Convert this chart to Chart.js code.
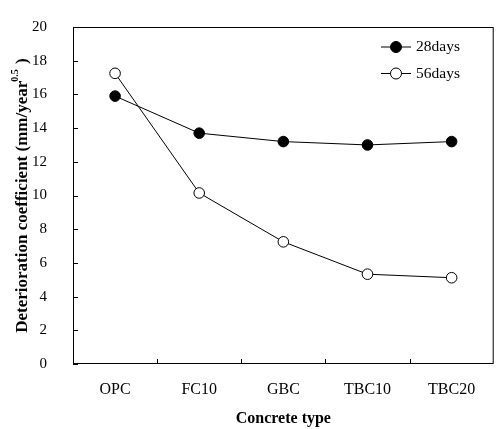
<!DOCTYPE html>
<html>
<head>
<meta charset="utf-8">
<script src="https://cdn.jsdelivr.net/npm/chart.js@4"></script>
<style>
  html, body { margin: 0; padding: 0; background: #fff; }
  #wrap { width: 500px; height: 429px; }
</style>
</head>
<body>
<div id="wrap"><canvas id="chart"></canvas></div>
<script>
const categories = ['OPC', 'FC10', 'GBC', 'TBC10', 'TBC20'];
const days28 = [15.9, 13.7, 13.2, 13.0, 13.2];
const days56 = [17.25, 10.15, 7.25, 5.33, 5.12];
const yTicks = [0, 2, 4, 6, 8, 10, 12, 14, 16, 18, 20];

const serif = "'Liberation Serif', 'DejaVu Serif', serif";

// frame and inward ticks
const framePlugin = {
    id: 'frame',
    afterDraw(chart) {
        const ctx = chart.ctx;
        const a = chart.chartArea;
        const x = chart.scales.x;
        const y = chart.scales.y;
        ctx.save();
        ctx.strokeStyle = '#000';
        ctx.lineWidth = 1;
        ctx.strokeRect(a.left + 0.5, a.top + 0.5, a.right - a.left - 1, a.bottom - a.top - 1);
        ctx.beginPath();
        yTicks.forEach(function(v) {
            const py = Math.round(y.getPixelForValue(v)) + 0.5;
            ctx.moveTo(a.left, py);
            ctx.lineTo(a.left + 5, py);
        });
        const half = (x.getPixelForValue(1) - x.getPixelForValue(0)) / 2;
        for (let i = 1; i < categories.length; i++) {
            const px = Math.round(x.getPixelForValue(i) - half) + 0.5;
            ctx.moveTo(px, a.bottom);
            ctx.lineTo(px, a.bottom - 5);
        }
        ctx.stroke();

        // y axis title with superscript
        ctx.translate(23, (a.top + a.bottom) / 2);
        ctx.rotate(-Math.PI / 2);
        ctx.fillStyle = '#000';
        ctx.textBaseline = 'middle';
        const main = 'Deterioration coefficient (mm/year';
        const sup = '0.5';
        const end = ' )';
        ctx.font = 'bold 17px ' + serif;
        const w1 = ctx.measureText(main).width;
        const w3 = ctx.measureText(end).width;
        ctx.font = 'bold 10px ' + serif;
        const w2 = ctx.measureText(sup).width;
        let sx = -(w1 + w2 + w3) / 2;
        ctx.font = 'bold 17px ' + serif;
        ctx.fillText(main, sx, 0);
        ctx.font = 'bold 10px ' + serif;
        ctx.fillText(sup, sx + w1 - 1, -8);
        ctx.font = 'bold 17px ' + serif;
        ctx.fillText(end, sx + w1 + w2, 0);
        ctx.restore();
    }
};

// legend inside the plot, line + marker
const legendPlugin = {
    id: 'innerLegend',
    afterDraw(chart) {
        const ctx = chart.ctx;
        ctx.save();
        chart.data.datasets.forEach(function(ds, i) {
            const cy = 47 + i * 26.5;
            ctx.strokeStyle = '#000';
            ctx.lineWidth = 1;
            ctx.beginPath();
            ctx.moveTo(381, cy);
            ctx.lineTo(411, cy);
            ctx.stroke();
            ctx.beginPath();
            ctx.arc(396, cy, 5.5, 0, Math.PI * 2);
            ctx.fillStyle = ds.pointBackgroundColor;
            ctx.fill();
            ctx.stroke();
            ctx.fillStyle = '#000';
            ctx.font = '15.5px ' + serif;
            ctx.textBaseline = 'middle';
            ctx.textAlign = 'left';
            ctx.fillText(ds.label, 416, cy);
        });
        ctx.restore();
    }
};

const data = {
    labels: categories,
    datasets: [{
        label: '28days',
        data: days28,
        borderColor: '#000',
        borderWidth: 1,
        pointBackgroundColor: '#000',
        pointBorderColor: '#000',
        pointBorderWidth: 1,
        pointRadius: 5.3,
    },
    {
        label: '56days',
        data: days56,
        borderColor: '#000',
        borderWidth: 1,
        pointBackgroundColor: '#fff',
        pointBorderColor: '#000',
        pointBorderWidth: 1,
        pointRadius: 5.3,
    }]
};

const config = {
    type: 'line',
    data: data,
    options: {
        responsive: true,
        maintainAspectRatio: false,
        animation: false,
        layout: { padding: { top: 11, right: 3, left: 0, bottom: 0 } },
        plugins: {
            legend: { display: false },
            tooltip: { enabled: false }
        },
        scales: {
            x: {
                offset: true,
                grid: { display: false },
                border: { display: false },
                ticks: {
                    color: '#000',
                    padding: 8,
                    font: { family: serif, size: 16 }
                },
                title: {
                    display: true,
                    text: 'Concrete type',
                    color: '#000',
                    padding: { top: 0, bottom: 1 },
                    font: { family: serif, size: 16, weight: 'bold' }
                },
                afterFit: function(scale) { scale.height = 65; }
            },
            y: {
                min: 0,
                max: 20,
                grid: { display: false },
                border: { display: false },
                afterBuildTicks: function(scale) {
                    scale.ticks = yTicks.map(function(v) { return { value: v }; });
                },
                ticks: {
                    color: '#000',
                    padding: 18,
                    font: { family: serif, size: 15 }
                },
                afterFit: function(scale) { scale.width = 73; }
            }
        }
    },
    plugins: [framePlugin, legendPlugin]
};

const chart = new Chart(document.getElementById('chart'), config);
</script>
</body>
</html>
